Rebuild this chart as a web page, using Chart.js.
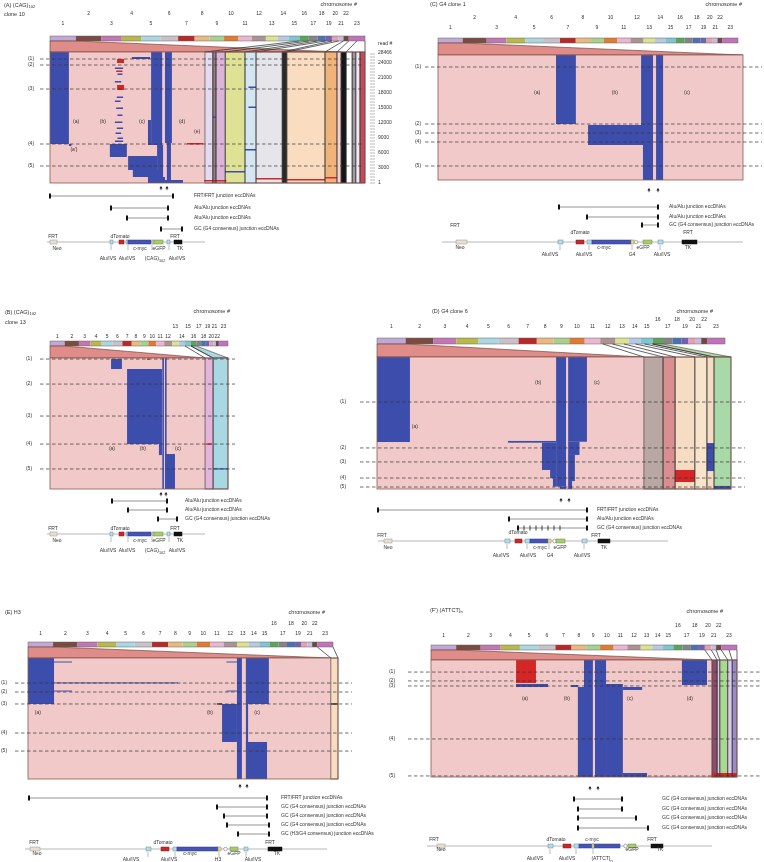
<!DOCTYPE html>
<html><head><meta charset="utf-8">
<script src="https://cdn.jsdelivr.net/npm/chart.js@4.4.1/dist/chart.umd.min.js"></script>
<style>
html,body{margin:0;padding:0;background:#fff;width:764px;height:862px;overflow:hidden}
#wrap{position:relative;width:764px;height:862px}
canvas{position:absolute;left:0;top:0}
</style></head><body><div id="wrap"></div>
<script>
// ---------- shared data ----------
const chromLabels = ['1','2','3','4','5','6','7','8','9','10','11','12','13','14','15','16','17','18','19','20','21','22','23'];
const chromSizes = [249,243,198,190,181,171,159,145,138,134,135,133,114,107,102,90,83,80,59,64,47,51,156]; // Mb
const chromColors = ['#c2a8d4','#7a4b40','#c276b2','#b8b84c','#acd6e2','#c8c2c8','#b82828','#e9ba80','#a8d08e','#e07c32','#eab6d2','#ac9292','#dce28e','#b6cae2','#7ec6d2','#5ca45c','#848484','#4a72b2','#7262b2','#e2a2b2','#cabae2','#6c4a42','#c272ba'];
const cutNames = ['(1)','(2)','(3)','(4)','(5)'];

// ---------- panel A ----------
const laneSpansA = [[0,492],[492,517],[517,527],[527,556],[556,619],[619,654],[654,737],[737,752],[752,873],[873,911],[911,924],[924,940],[940,959],[959,971],[971,984],[984,1000]];
const fanPolysA = [[0,249,0,924]];
const fanLinesA = [[2399,492],[2489,556],[2572,619],[2652,654],[2711,737],[2775,752],[2822,873],[2873,911],[2950,940],[3029,1000]];
const blueA = [[0,60,7800,26200],[60,68,7400,7800],[190,244,5200,7800],[248,340,2600,5400],[263,349,1200,2600],[311,365,0,1200],[321,356,7600,26200],[311,321,7600,12600],[340,359,0,7600],[365,387,8000,26200],[371,384,600,8000],[365,422,0,600],[260,318,24800,25200],
 [206,232,22800,23100],[214,230,21600,21900],[206,226,20100,20400],[212,232,17000,17300],[206,224,16200,16500],[210,232,14800,15100],[214,230,13400,13700],[206,230,12000,12300],[212,232,10800,11100],[208,226,9800,10100],[214,232,8800,9100],[206,232,8200,8500],
 [619,654,6500,6800],[630,654,15000,15300],[630,654,19000,19300],[517,527,13000,13300],[556,619,2100,2400]];
const redA = [[213,235,24000,24800],[213,235,18600,19600],[210,230,22200,22500],[435,486,7700,8000],[490,560,300,600],[654,737,700,1000],[752,873,500,800],[873,911,900,1200]];
const cutsA = [24800,23600,18800,7800,3400];
const regionLabelsA = [['(a)',83,12200],['(b)',168,12200],['(c)',292,12200],['(d)',419,12200],['(e)',467,10200],["(a')",76,6600]];
const readTicksA = [1,3000,6000,9000,12000,15000,18000,21000,24000];
const readTopA = '28466';
const arrowsA = [114,120];
const eccSpansA = [[3,126],[64,121],[80,121],[114,135]];
const eccNamesA = ['FRT/FRT junction eccDNAs','Alu/Alu junction eccDNAs','Alu/Alu junction eccDNAs','GC (G4 consensus) junction eccDNAs'];

// construct used in A and B (CAG)
const geneSpansAB = [[3,10],[63,66],[72,77],[79,81],[81,104],[105,107],[107,116],[120,123],[127,135]];
const geneTypesAB = ['neo','alu','dtom','alu','myc','rep','gfp','alu','tk'];
const geneLineAB = [0,158];
const geneTextAB = [['FRT',6,-5],['dTomato',73,-5],['FRT',128,-5],['Neo',10,7],['c-myc',93,7],['eGFP',112,7],['TK',133,7],['Alu/IVS',61,17],['Alu/IVS',80,17],['(CAG)_102',108,17],['Alu/IVS',130,17]];
const geneTicksAB = [64,81,105,122];

// ---------- panel B ----------
const laneSpansB = [[0,871],[871,916],[916,1000]];
const fanPolysB = [[0,249,0,871],[2399,2489,916,1000]];
const fanLinesB = [[2297,871],[2399,916]];
const blueB = [[343,404,91.6,99.2],[433,629,34.3,91.6],[612,629,25.9,34.3],[631,640,0,100],[646,655,0,100],[652,702,0,26.7],[916,1000,14.9,15.8]];
const redB = [[545,560,98.6,99.6],[876,910,33.8,34.8]];
const cutsB = [99.2,80.1,55.7,34.3,15.3];
const regionLabelsB = [['(a)',348,30.5],['(b)',522,30.5],['(c)',719,30.5]];
const arrowsB = [114,119];
const eccSpansB = [[65,120],[81,120],[111,130]];
const eccNamesB = ['Alu/Alu junction eccDNAs','Alu/Alu junction eccDNAs','GC (G4 consensus) junction eccDNAs'];

// ---------- panel C ----------
const laneSpansC = [[0,1000]];
const fanPolysC = [[0,249,0,1000]];
const fanLinesC = [];
const blueC = [[387,452,44.8,100],[492,679,28,44],[666,705,44,100],[672,705,0,44],[715,738,0,100]];
const redC = [];
const cutsC = [90.4,44.8,37.6,30.4,11.2];
const regionLabelsC = [['(a)',325,69.6],['(b)',580,69.6],['(c)',816,69.6]];
const arrowsC = [207,216];
const eccSpansC = [[117,216],[145,216],[200,216]];
const eccNamesC = ['Alu/Alu junction eccDNAs','Alu/Alu junction eccDNAs','GC (G4 consensus) junction eccDNAs'];
const geneSpansC = [[14,25],[116,121],[134,142],[145,150],[150,189],[189,192],[192,196],[201,210],[216,221],[240,255]];
const geneTypesC = ['neo','alu','dtom','alu','myc','g4','circ','gfp','alu','tk'];
const geneLineC = [0,301];
const geneTextC = [['FRT',13,-16],['dTomato',138,-9],['FRT',246,-9],['Neo',18,6],['c-myc',162,6],['eGFP',201,6],['TK',246,6],['Alu/IVS',108,13],['Alu/IVS',142,13],['G4',190,13],['Alu/IVS',220,13]];
const geneTicksC = [118,147,190,218];

// ---------- panel D ----------
const laneSpansD = [[0,754],[754,808],[808,842],[842,898],[898,932],[932,952],[952,1000]];
const fanPolysD = [[0,249,0,754],[2399,2489,952,1000]];
const fanLinesD = [[1967,754],[2050,808],[2150,842],[2250,898],[2330,932],[2399,952]];
const blueD = [[0,93,35.6,100],[506,534,1.8,100],[370,506,35.1,36.4],[466,506,14.4,35.1],[489,506,8.1,14.4],[497,506,1.8,8.1],[517,534,0,1.8],[540,593,35.8,100],[540,572,25.8,35.8],[540,559,6,25.8],[540,551,0,6],[932,952,13.6,34.8],[952,1000,0,2.3]];
const redD = [[842,898,5.3,14.4]];
const cutsD = [65.9,31.1,20.5,8.3,1.5];
const regionLabelsD = [['(a)',107,47],['(b)',455,80.3],['(c)',621,80.3]];
const arrowsD = [183,191];
const eccSpansD = [[0,209],[131,209],[140,209]];
const eccNamesD = ['FRT/FRT junction eccDNAs','Alu/Alu junction eccDNAs','GC (G4 consensus) junction eccDNAs'];
const eccTicksD = [146,152,158,164,170,176,182];
const geneSpansD = [[6,14],[127,132],[137,144],[147,152],[152,170],[170,173],[175,178],[178,187],[204,209],[220,232]];
const geneTypesD = ['neo','alu','dtom','alu','myc','g4','circ','gfp','alu','tk'];
const geneLineD = [0,290];
const geneTextD = [['FRT',4,-5],['dTomato',140,-8],['FRT',218,-5],['Neo',10,7],['c-myc',162,7],['eGFP',182,7],['TK',226,7],['Alu/IVS',123,15],['Alu/IVS',150,15],['G4',172,15],['Alu/IVS',204,15]];
const geneTicksD = [129,149,171,206];

// ---------- panel E ----------
const laneSpansE = [[0,977],[977,1000]];
const fanPolysE = [[0,249,0,977]];
const fanLinesE = [[2873,977],[3029,1000]];
const blueE = [[0,84,62,100],[84,142,96.3,97.1],[84,142,72.3,73.1],[84,484,79,79.8],[640,674,96.3,97.1],[640,674,72.3,73.1],[674,690,0,100],[626,674,30.6,62],[703,710,0,100],[703,777,62,100],[703,771,0,30.6]];
const redE = [];
const darkE = [[610,626,61.5,62.5],[977,1000,61.5,62.5]];
const cutsE = [79.3,71.9,62,38,23.1];
const regionLabelsE = [['(a)',32,54.5],['(b)',587,54.5],['(c)',739,54.5]];
const arrowsE = [215,222];
const eccSpansE = [[4,242],[192,242],[199,242],[202,244],[213,244]];
const eccNamesE = ['FRT/FRT junction eccDNAs','GC (G4 consensus) junction eccDNAs','GC (G4 consensus) junction eccDNAs','GC (G4 consensus) junction eccDNAs','GC (H3/G4 consensus) junction eccDNAs'];
const geneSpansE = [[5,15],[121,126],[136,144],[148,152],[152,193],[193,196],[199,202],[205,213],[219,223],[243,257]];
const geneTypesE = ['neo','alu','dtom','alu','myc','g4','circ','gfp','alu','tk'];
const geneLineE = [0,302];
const geneTextE = [['FRT',9,-6],['dTomato',138,-6],['FRT',245,-6],['Neo',12,5],['c-myc',165,5],['eGFP',209,5],['TK',252,5],['Alu/IVS',106,11],['Alu/IVS',144,11],['H3',193,11],['Alu/IVS',228,11]];
const geneTicksE = [123,150,194,221];

// ---------- panel F ----------
const laneSpansF = [[0,918],[918,935],[935,944],[944,970],[970,984],[984,1000]];
const fanPolysF = [[0,249,0,918]];
const fanLinesF = [[2711,918],[2775,935],[2822,944],[2873,970],[2950,984],[3029,1000]];
const blueF = [[278,382,76.9,79.5],[500,529,0,100],[480,500,0,76.9],[458,480,76.9,78.6],[536,572,0,100],[572,627,0,79.5],[627,690,74.4,76.9],[627,706,0,3.4],[820,902,78.6,100]];
const redF = [[278,343,80.3,100],[918,1000,0,3.4]];
const cutsF = [89.7,82.1,77.8,32.5,0.9];
const regionLabelsF = [['(a)',307,66.7],['(b)',444,66.7],['(c)',650,66.7],['(d)',846,66.7]];
const arrowsF = [163,171];
const eccSpansF = [[147,195],[151,195],[151,209],[151,221]];
const eccNamesF = ['GC (G4 consensus) junction eccDNAs','GC (G4 consensus) junction eccDNAs','GC (G4 consensus) junction eccDNAs','GC (G4 consensus) junction eccDNAs'];
const geneSpansF = [[10,18],[121,126],[136,144],[147,152],[152,193],[165,167],[197,200],[201,209],[224,236]];
const geneTypesF = ['neo','alu','dtom','alu','myc','g4','circ','gfp','tk'];
const geneLineF = [0,285];
const geneTextF = [['FRT',7,-6],['dTomato',129,-6],['c-myc',165,-6],['FRT',225,-6],['Neo',14,4],['eGFP',205,4],['TK',233,4],['Alu/IVS',108,13],['Alu/IVS',140,13],['(ATTCT)_n',175,13]];
const geneTicksF = [123,149,166];

// ---------- styles ----------
const PINK='#f2c9c9', SAL='#e08c88', BLUE='#3d4dab', RED='#d42626', EDGE='#8c5a52', TXT='#333';
const laneColorsA = [PINK,'#e3dcf0','#9a7a80','#dcb4d8','#dfe294','#d4e6f2','#e6e6ea','#2a2a2a','#fadcc0','#f0b47a','#f6d0d0','#151515','#ffffff','#a09aa0','#f0e8f0','#c84a5a'];
const laneColorsB = [PINK,'#e4b4da','#a8d8e2'];
const laneColorsC = [PINK];
const laneColorsD = [PINK,'#b9a7a3','#d98f8f','#f6dcc2','#f8e3cb','#f6dcc2','#a9d8a9'];
const laneColorsE = [PINK,'#f8dcc0'];
const laneColorsF = [PINK,'#8c4c6c','#dccbe8','#a9d890','#dccbe8','#9a8aca'];
const geneStyle = {
  neo:{fill:'#e6e0cc',stroke:'#999'}, alu:{fill:'#b8dce8',stroke:'#5a8aa0'}, dtom:{fill:'#c42a2a',stroke:'#8a1a1a'},
  myc:{fill:'#4654b4',stroke:'#2a3a8a'}, rep:{fill:'#d8d8a0',stroke:'#888'}, g4:{fill:'#e8e070',stroke:'#888'},
  gfp:{fill:'#a8cc6c',stroke:'#6a8a40'}, tk:{fill:'#111',stroke:'#111'}, circ:{fill:'#fff',stroke:'#666'}
};

// ---------- layouts (pixel placement of each panel) ----------
const FONT='"Liberation Sans", Arial, sans-serif';
const panels = [
 {area:{l:50,r:365,t:52,b:183}, yMax:26200, bar:{l:50,r:365,t:36,b:41}, raised:[2,4,6,8,10,12,14,16,18,20,22], rowUp:22, rowLo:12,
  title:[['(A) (CAG)_102',4,5],['clone 10',4,14]], hdr:[357,4], dash:{l:40,r:363,lab:31}, cStart:47, eccRows:[13,25,35,46], eccLab:147, arrowY:5, geneY:59,
  lanes:laneSpansA, laneColors:laneColorsA, fanPolys:fanPolysA, fanColors:[SAL], fanLines:fanLinesA, blue:blueA, red:redA, dark:[], cuts:cutsA, regions:regionLabelsA,
  arrows:arrowsA, ecc:eccSpansA, eccNames:eccNamesA, eccTicks:[], gene:geneSpansAB, geneTypes:geneTypesAB, geneLine:geneLineAB, geneText:geneTextAB, geneTicks:geneTicksAB, readAxis:true},
 {area:{l:50,r:228,t:358,b:489}, yMax:100, bar:{l:50,r:228,t:341,b:346}, raised:[13,15,17,19,21,23], rowUp:14, rowLo:4,
  title:[['(B) (CAG)_102',5,312],['clone 13',5,322]], hdr:[230,311], dash:{l:40,r:235,lab:29}, cStart:47, eccRows:[12,21,30], eccLab:138, arrowY:5, geneY:45,
  lanes:laneSpansB, laneColors:laneColorsB, fanPolys:fanPolysB, fanColors:[SAL,'#a8d8e2'], fanLines:fanLinesB, blue:blueB, red:redB, dark:[], cuts:cutsB, regions:regionLabelsB,
  arrows:arrowsB, ecc:eccSpansB, eccNames:eccNamesB, eccTicks:[], gene:geneSpansAB, geneTypes:geneTypesAB, geneLine:geneLineAB, geneText:geneTextAB, geneTicks:geneTicksAB},
 {area:{l:438,r:743,t:55,b:180}, yMax:100, bar:{l:438,r:738,t:38,b:43}, raised:[2,4,6,8,10,12,14,16,18,20,22], rowUp:20, rowLo:10,
  title:[['(C) G4 clone 1',430,4]], hdr:[742,4], dash:{l:425,r:762,lab:418}, cStart:442, eccRows:[27,37,45], eccLab:227, arrowY:10, geneY:62,
  lanes:laneSpansC, laneColors:laneColorsC, fanPolys:fanPolysC, fanColors:[SAL], fanLines:fanLinesC, blue:blueC, red:redC, dark:[], cuts:cutsC, regions:regionLabelsC,
  arrows:arrowsC, ecc:eccSpansC, eccNames:eccNamesC, eccTicks:[], gene:geneSpansC, geneTypes:geneTypesC, geneLine:geneLineC, geneText:geneTextC, geneTicks:geneTicksC},
 {area:{l:377,r:731,t:357,b:489}, yMax:100, bar:{l:377,r:725,t:338,b:344}, raised:[16,18,20,22], rowUp:18, rowLo:11,
  title:[['(D) G4 clone 6',432,311]], hdr:[713,311], dash:{l:360,r:745,lab:343}, cStart:378, eccRows:[21,30,39], eccLab:219, arrowY:11, geneY:52,
  lanes:laneSpansD, laneColors:laneColorsD, fanPolys:fanPolysD, fanColors:[SAL,'#a9d8a9'], fanLines:fanLinesD, blue:blueD, red:redD, dark:[], cuts:cutsD, regions:regionLabelsD,
  arrows:arrowsD, ecc:eccSpansD, eccNames:eccNamesD, eccTicks:eccTicksD, gene:geneSpansD, geneTypes:geneTypesD, geneLine:geneLineD, geneText:geneTextD, geneTicks:geneTicksD},
 {area:{l:28,r:338,t:658,b:779}, yMax:100, bar:{l:28,r:333,t:642,b:647}, raised:[16,18,20,22], rowUp:18, rowLo:8,
  title:[['(E) H3',5,612]], hdr:[325,612], dash:{l:15,r:352,lab:4}, cStart:25, eccRows:[19,28,37,46,55], eccLab:256, arrowY:7, geneY:70,
  lanes:laneSpansE, laneColors:laneColorsE, fanPolys:fanPolysE, fanColors:[SAL], fanLines:fanLinesE, blue:blueE, red:redE, dark:darkE, cuts:cutsE, regions:regionLabelsE,
  arrows:arrowsE, ecc:eccSpansE, eccNames:eccNamesE, eccTicks:[], gene:geneSpansE, geneTypes:geneTypesE, geneLine:geneLineE, geneText:geneTextE, geneTicks:geneTicksE},
 {area:{l:431,r:737,t:660,b:777}, yMax:100, bar:{l:431,r:737,t:645,b:650}, raised:[16,18,20,22], rowUp:19, rowLo:9,
  title:[["(F') (ATTCT)_n",430,610]], hdr:[723,611], dash:{l:408,r:762,lab:392}, cStart:427, eccRows:[22,32,41,51], eccLab:235, arrowY:11, geneY:69,
  lanes:laneSpansF, laneColors:laneColorsF, fanPolys:fanPolysF, fanColors:[SAL], fanLines:fanLinesF, blue:blueF, red:redF, dark:[], cuts:cutsF, regions:regionLabelsF,
  arrows:arrowsF, ecc:eccSpansF, eccNames:eccNamesF, eccTicks:[], gene:geneSpansF, geneTypes:geneTypesF, geneLine:geneLineF, geneText:geneTextF, geneTicks:geneTicksF}
];

// ---------- drawing ----------
function txt(ctx,s,x,y,align,size,color){
  ctx.fillStyle=color||TXT; ctx.textBaseline='middle';
  const parts=s.split('_');
  ctx.font=size+'px '+FONT;
  if(parts.length===1){ctx.textAlign=align||'center';ctx.fillText(s,x,y);return;}
  const w1=ctx.measureText(parts[0]).width;
  ctx.font=(size*0.75)+'px '+FONT; const w2=ctx.measureText(parts[1]).width;
  let x0 = align==='left'?x:(align==='right'?x-w1-w2:x-(w1+w2)/2);
  ctx.textAlign='left';
  ctx.font=size+'px '+FONT; ctx.fillText(parts[0],x0,y);
  ctx.font=(size*0.75)+'px '+FONT; ctx.fillText(parts[1],x0+w1,y+size*0.4);
}
function seg(ctx,x1,y1,x2,y2,c,w,dash){ctx.beginPath();ctx.setLineDash(dash||[]);ctx.strokeStyle=c;ctx.lineWidth=w;ctx.moveTo(x1,y1);ctx.lineTo(x2,y2);ctx.stroke();ctx.setLineDash([]);}

function drawPanel(chart,P){
  const ctx=chart.ctx, X=chart.scales.x, Y=chart.scales.y, C=chart.scales.xc, ca=chart.chartArea;
  const px=v=>X.getPixelForValue(v), py=v=>Y.getPixelForValue(v), pc=v=>C.getPixelForValue(v);
  const cum=[0]; chromSizes.forEach(s=>cum.push(cum[cum.length-1]+s));
  const tot=cum[cum.length-1];
  const gx=g=>P.bar.l+(P.bar.r-P.bar.l)*g/tot;
  ctx.save();
  P.title.forEach(t=>txt(ctx,t[0],t[1],t[2],'left',5.5));
  txt(ctx,'chromosome #',P.hdr[0],P.hdr[1],'right',5.5);
  chromLabels.forEach((lab,i)=>{
    const cx=gx((cum[i]+cum[i+1])/2), up=P.raised.includes(i+1);
    txt(ctx,lab,cx,P.bar.t-(up?P.rowUp:P.rowLo),'center',5);
  });
  chromSizes.forEach((s,i)=>{ctx.fillStyle=chromColors[i];ctx.fillRect(gx(cum[i]),P.bar.t,gx(cum[i+1])-gx(cum[i]),P.bar.b-P.bar.t);});
  ctx.strokeStyle='#666';ctx.lineWidth=0.5;ctx.strokeRect(P.bar.l,P.bar.t,P.bar.r-P.bar.l,P.bar.b-P.bar.t);
  P.fanPolys.forEach((f,i)=>{
    ctx.beginPath();ctx.moveTo(gx(f[0]),P.bar.b);ctx.lineTo(gx(f[1]),P.bar.b);ctx.lineTo(px(f[3]),ca.top);ctx.lineTo(px(f[2]),ca.top);ctx.closePath();
    ctx.fillStyle=P.fanColors[i];ctx.fill();ctx.strokeStyle='#5a3a34';ctx.lineWidth=0.6;ctx.stroke();
  });
  P.fanLines.forEach(f=>seg(ctx,gx(f[0]),P.bar.b,px(f[1]),ca.top,'#222',0.7));
  P.lanes.forEach((l,i)=>{ctx.fillStyle=P.laneColors[i];ctx.fillRect(px(l[0]),ca.top,px(l[1])-px(l[0]),ca.bottom-ca.top);});
  const rect=(b,c)=>{const x0=px(b[0]),x1=px(b[1]),y0=py(b[3]),y1=py(b[2]);ctx.fillStyle=c;ctx.fillRect(x0,y0,Math.max(0.8,x1-x0),Math.max(0.8,y1-y0));};
  P.blue.forEach(b=>rect(b,BLUE));
  P.red.forEach(b=>rect(b,RED));
  P.dark.forEach(b=>rect(b,'#111'));
  P.lanes.forEach((l,i)=>{ if(i===0) return; ctx.strokeStyle='#333';ctx.lineWidth=0.6;ctx.strokeRect(px(l[0]),ca.top,px(l[1])-px(l[0]),ca.bottom-ca.top);});
  ctx.strokeStyle=EDGE;ctx.lineWidth=0.8;ctx.strokeRect(ca.left,ca.top,ca.right-ca.left,ca.bottom-ca.top);
  P.cuts.forEach((v,i)=>{const y=py(v);seg(ctx,P.dash.l,y,P.dash.r,y,'#333',0.7,[3.5,2.5]);txt(ctx,cutNames[i],P.dash.lab,y,'center',5);});
  P.regions.forEach(r=>txt(ctx,r[0],px(r[1]),py(r[2]),'center',5));
  if(P.readAxis){
    for(let v=0; v<=P.yMax; v+=600){seg(ctx,ca.right+5,py(v),ca.right+10,py(v),'#777',0.5);}
    readTicksA.forEach(v=>txt(ctx,String(v),ca.right+13,py(v),'left',5));
    txt(ctx,readTopA,ca.right+13,py(P.yMax)+1,'left',5);
    txt(ctx,'read #',ca.right+13,ca.top-8,'left',5);
  }
  P.arrows.forEach(a=>{const x=pc(a),y=ca.bottom+P.arrowY;ctx.fillStyle='#111';ctx.beginPath();ctx.moveTo(x,y-2);ctx.lineTo(x-1.6,y+0.6);ctx.lineTo(x+1.6,y+0.6);ctx.closePath();ctx.fill();ctx.fillRect(x-0.35,y,0.7,2.2);});
  P.ecc.forEach((e,i)=>{
    const y=ca.bottom+P.eccRows[i];
    seg(ctx,pc(e[0]),y,pc(e[1]),y,'#666',0.7);
    ctx.fillStyle='#111';ctx.fillRect(pc(e[0])-1,y-2.5,2,5);ctx.fillRect(pc(e[1])-1,y-2.5,2,5);
    if(i===P.ecc.length-1) P.eccTicks.forEach(t=>ctx.fillRect(pc(t)-0.4,y-2.5,0.8,5));
    txt(ctx,P.eccNames[i],pc(P.eccLab),y,'left',5);
  });
  const gy=ca.bottom+P.geneY;
  seg(ctx,pc(P.geneLine[0]),gy,pc(P.geneLine[1]),gy,'#999',0.7);
  P.geneTicks.forEach(t=>seg(ctx,pc(t),gy+3,pc(t),gy+8,'#777',0.5));
  P.gene.forEach((g,i)=>{
    const st=geneStyle[P.geneTypes[i]], x0=pc(g[0]), x1=pc(g[1]);
    if(P.geneTypes[i]==='circ'){ctx.beginPath();ctx.arc((x0+x1)/2,gy,1.8,0,Math.PI*2);ctx.fillStyle=st.fill;ctx.fill();ctx.strokeStyle=st.stroke;ctx.lineWidth=0.5;ctx.stroke();return;}
    ctx.fillStyle=st.fill;ctx.fillRect(x0,gy-2,x1-x0,4);ctx.strokeStyle=st.stroke;ctx.lineWidth=0.5;ctx.strokeRect(x0,gy-2,x1-x0,4);
  });
  P.geneText.forEach(t=>txt(ctx,t[0],pc(t[1]),gy+t[2],'center',5));
  ctx.restore();
}

const wrap=document.getElementById('wrap');
panels.forEach(P=>{
  const cv=document.createElement('canvas'); cv.width=764; cv.height=862; cv.style.width='764px'; cv.style.height='862px';
  wrap.appendChild(cv);
  new Chart(cv,{type:'scatter',data:{datasets:[]},
    options:{responsive:false,animation:false,devicePixelRatio:1,events:[],
      layout:{padding:{left:P.area.l,top:P.area.t,right:764-P.area.r,bottom:862-P.area.b}},
      plugins:{legend:{display:false},tooltip:{enabled:false}},
      scales:{x:{type:'linear',min:0,max:1000,display:false},
              y:{type:'linear',min:0,max:P.yMax,display:false},
              xc:{type:'linear',axis:'x',min:P.area.l-P.cStart,max:P.area.r-P.cStart,display:false}}},
    plugins:[{id:'panel',afterDraw:ch=>drawPanel(ch,P)}]});
});
</script></body></html>
